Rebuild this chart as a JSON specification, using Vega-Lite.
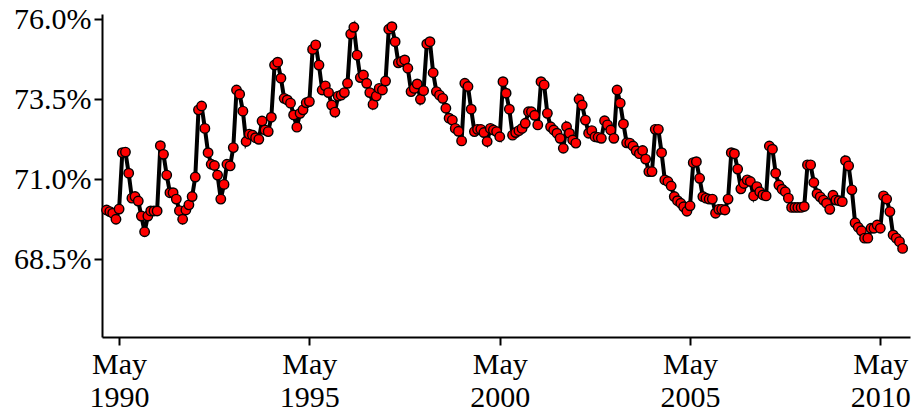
{
"$schema":"https://vega.github.io/schema/vega-lite/v6.json",
"autosize":{"type":"none"},
"padding":{"left":102,"top":14,"right":7,"bottom":83},
"width":808,"height":323,
"background":"white",
"config":{"view":{"stroke":null},"font":"Liberation Serif"},
"data":{"values":[
{"d":"1990-01-01","v":70.04},{"d":"1990-02-01","v":69.99},{"d":"1990-03-01","v":69.94},{"d":"1990-04-01","v":69.75},{"d":"1990-05-01","v":70.07},{"d":"1990-06-01","v":71.83},{"d":"1990-07-01","v":71.85},{"d":"1990-08-01","v":71.19},{"d":"1990-09-01","v":70.41},{"d":"1990-10-01","v":70.46},{"d":"1990-11-01","v":70.32},{"d":"1990-12-01","v":69.85},
{"d":"1991-01-01","v":69.36},{"d":"1991-02-01","v":69.85},{"d":"1991-03-01","v":70.01},{"d":"1991-04-01","v":70.01},{"d":"1991-05-01","v":70.01},{"d":"1991-06-01","v":72.05},{"d":"1991-07-01","v":71.78},{"d":"1991-08-01","v":71.13},{"d":"1991-09-01","v":70.58},{"d":"1991-10-01","v":70.58},{"d":"1991-11-01","v":70.38},{"d":"1991-12-01","v":70.02},
{"d":"1992-01-01","v":69.75},{"d":"1992-02-01","v":70.04},{"d":"1992-03-01","v":70.2},{"d":"1992-04-01","v":70.46},{"d":"1992-05-01","v":71.07},{"d":"1992-06-01","v":73.17},{"d":"1992-07-01","v":73.29},{"d":"1992-08-01","v":72.59},{"d":"1992-09-01","v":71.83},{"d":"1992-10-01","v":71.47},{"d":"1992-11-01","v":71.43},{"d":"1992-12-01","v":71.13},
{"d":"1993-01-01","v":70.38},{"d":"1993-02-01","v":70.84},{"d":"1993-03-01","v":71.47},{"d":"1993-04-01","v":71.42},{"d":"1993-05-01","v":71.99},{"d":"1993-06-01","v":73.79},{"d":"1993-07-01","v":73.66},{"d":"1993-08-01","v":73.13},{"d":"1993-09-01","v":72.18},{"d":"1993-10-01","v":72.41},{"d":"1993-11-01","v":72.38},{"d":"1993-12-01","v":72.3},
{"d":"1994-01-01","v":72.25},{"d":"1994-02-01","v":72.82},{"d":"1994-03-01","v":72.54},{"d":"1994-04-01","v":72.49},{"d":"1994-05-01","v":72.94},{"d":"1994-06-01","v":74.57},{"d":"1994-07-01","v":74.66},{"d":"1994-08-01","v":74.16},{"d":"1994-09-01","v":73.53},{"d":"1994-10-01","v":73.48},{"d":"1994-11-01","v":73.38},{"d":"1994-12-01","v":73.01},
{"d":"1995-01-01","v":72.63},{"d":"1995-02-01","v":73.06},{"d":"1995-03-01","v":73.17},{"d":"1995-04-01","v":73.39},{"d":"1995-05-01","v":73.43},{"d":"1995-06-01","v":75.06},{"d":"1995-07-01","v":75.2},{"d":"1995-08-01","v":74.57},{"d":"1995-09-01","v":73.79},{"d":"1995-10-01","v":73.92},{"d":"1995-11-01","v":73.71},{"d":"1995-12-01","v":73.32},
{"d":"1996-01-01","v":73.1},{"d":"1996-02-01","v":73.6},{"d":"1996-03-01","v":73.63},{"d":"1996-04-01","v":73.71},{"d":"1996-05-01","v":74.0},{"d":"1996-06-01","v":75.54},{"d":"1996-07-01","v":75.75},{"d":"1996-08-01","v":74.88},{"d":"1996-09-01","v":74.18},{"d":"1996-10-01","v":74.26},{"d":"1996-11-01","v":74.0},{"d":"1996-12-01","v":73.71},
{"d":"1997-01-01","v":73.34},{"d":"1997-02-01","v":73.6},{"d":"1997-03-01","v":73.84},{"d":"1997-04-01","v":73.79},{"d":"1997-05-01","v":74.07},{"d":"1997-06-01","v":75.69},{"d":"1997-07-01","v":75.77},{"d":"1997-08-01","v":75.3},{"d":"1997-09-01","v":74.64},{"d":"1997-10-01","v":74.68},{"d":"1997-11-01","v":74.73},{"d":"1997-12-01","v":74.47},
{"d":"1998-01-01","v":73.74},{"d":"1998-02-01","v":73.84},{"d":"1998-03-01","v":73.98},{"d":"1998-04-01","v":73.5},{"d":"1998-05-01","v":73.77},{"d":"1998-06-01","v":75.23},{"d":"1998-07-01","v":75.3},{"d":"1998-08-01","v":74.33},{"d":"1998-09-01","v":73.74},{"d":"1998-10-01","v":73.63},{"d":"1998-11-01","v":73.53},{"d":"1998-12-01","v":73.22},
{"d":"1999-01-01","v":72.91},{"d":"1999-02-01","v":72.85},{"d":"1999-03-01","v":72.59},{"d":"1999-04-01","v":72.5},{"d":"1999-05-01","v":72.2},{"d":"1999-06-01","v":74.0},{"d":"1999-07-01","v":73.9},{"d":"1999-08-01","v":73.19},{"d":"1999-09-01","v":72.49},{"d":"1999-10-01","v":72.56},{"d":"1999-11-01","v":72.56},{"d":"1999-12-01","v":72.46},
{"d":"2000-01-01","v":72.18},{"d":"2000-02-01","v":72.59},{"d":"2000-03-01","v":72.54},{"d":"2000-04-01","v":72.49},{"d":"2000-05-01","v":72.33},{"d":"2000-06-01","v":74.05},{"d":"2000-07-01","v":73.69},{"d":"2000-08-01","v":73.19},{"d":"2000-09-01","v":72.38},{"d":"2000-10-01","v":72.46},{"d":"2000-11-01","v":72.52},{"d":"2000-12-01","v":72.59},
{"d":"2001-01-01","v":72.75},{"d":"2001-02-01","v":73.11},{"d":"2001-03-01","v":73.11},{"d":"2001-04-01","v":73.0},{"d":"2001-05-01","v":72.7},{"d":"2001-06-01","v":74.05},{"d":"2001-07-01","v":73.95},{"d":"2001-08-01","v":73.06},{"d":"2001-09-01","v":72.64},{"d":"2001-10-01","v":72.54},{"d":"2001-11-01","v":72.44},{"d":"2001-12-01","v":72.28},
{"d":"2002-01-01","v":71.97},{"d":"2002-02-01","v":72.64},{"d":"2002-03-01","v":72.44},{"d":"2002-04-01","v":72.23},{"d":"2002-05-01","v":72.13},{"d":"2002-06-01","v":73.5},{"d":"2002-07-01","v":73.32},{"d":"2002-08-01","v":72.85},{"d":"2002-09-01","v":72.44},{"d":"2002-10-01","v":72.52},{"d":"2002-11-01","v":72.33},{"d":"2002-12-01","v":72.31},
{"d":"2003-01-01","v":72.28},{"d":"2003-02-01","v":72.83},{"d":"2003-03-01","v":72.7},{"d":"2003-04-01","v":72.54},{"d":"2003-05-01","v":72.28},{"d":"2003-06-01","v":73.79},{"d":"2003-07-01","v":73.38},{"d":"2003-08-01","v":72.73},{"d":"2003-09-01","v":72.14},{"d":"2003-10-01","v":72.13},{"d":"2003-11-01","v":72.04},{"d":"2003-12-01","v":71.89},
{"d":"2004-01-01","v":71.8},{"d":"2004-02-01","v":71.9},{"d":"2004-03-01","v":71.63},{"d":"2004-04-01","v":71.24},{"d":"2004-05-01","v":71.24},{"d":"2004-06-01","v":72.56},{"d":"2004-07-01","v":72.56},{"d":"2004-08-01","v":71.83},{"d":"2004-09-01","v":70.98},{"d":"2004-10-01","v":70.93},{"d":"2004-11-01","v":70.79},{"d":"2004-12-01","v":70.46},
{"d":"2005-01-01","v":70.33},{"d":"2005-02-01","v":70.25},{"d":"2005-03-01","v":70.14},{"d":"2005-04-01","v":70.0},{"d":"2005-05-01","v":70.17},{"d":"2005-06-01","v":71.52},{"d":"2005-07-01","v":71.55},{"d":"2005-08-01","v":71.03},{"d":"2005-09-01","v":70.46},{"d":"2005-10-01","v":70.41},{"d":"2005-11-01","v":70.38},{"d":"2005-12-01","v":70.38},
{"d":"2006-01-01","v":69.94},{"d":"2006-02-01","v":70.06},{"d":"2006-03-01","v":70.06},{"d":"2006-04-01","v":70.04},{"d":"2006-05-01","v":70.38},{"d":"2006-06-01","v":71.83},{"d":"2006-07-01","v":71.8},{"d":"2006-08-01","v":71.32},{"d":"2006-09-01","v":70.7},{"d":"2006-10-01","v":70.87},{"d":"2006-11-01","v":70.98},{"d":"2006-12-01","v":70.93},
{"d":"2007-01-01","v":70.48},{"d":"2007-02-01","v":70.77},{"d":"2007-03-01","v":70.61},{"d":"2007-04-01","v":70.51},{"d":"2007-05-01","v":70.48},{"d":"2007-06-01","v":72.04},{"d":"2007-07-01","v":71.94},{"d":"2007-08-01","v":71.19},{"d":"2007-09-01","v":70.82},{"d":"2007-10-01","v":70.69},{"d":"2007-11-01","v":70.61},{"d":"2007-12-01","v":70.41},
{"d":"2008-01-01","v":70.12},{"d":"2008-02-01","v":70.12},{"d":"2008-03-01","v":70.12},{"d":"2008-04-01","v":70.12},{"d":"2008-05-01","v":70.15},{"d":"2008-06-01","v":71.45},{"d":"2008-07-01","v":71.45},{"d":"2008-08-01","v":70.9},{"d":"2008-09-01","v":70.55},{"d":"2008-10-01","v":70.45},{"d":"2008-11-01","v":70.35},{"d":"2008-12-01","v":70.25},
{"d":"2009-01-01","v":70.06},{"d":"2009-02-01","v":70.5},{"d":"2009-03-01","v":70.35},{"d":"2009-04-01","v":70.33},{"d":"2009-05-01","v":70.3},{"d":"2009-06-01","v":71.58},{"d":"2009-07-01","v":71.42},{"d":"2009-08-01","v":70.67},{"d":"2009-09-01","v":69.64},{"d":"2009-10-01","v":69.5},{"d":"2009-11-01","v":69.39},{"d":"2009-12-01","v":69.16},
{"d":"2010-01-01","v":69.16},{"d":"2010-02-01","v":69.47},{"d":"2010-03-01","v":69.47},{"d":"2010-04-01","v":69.57},{"d":"2010-05-01","v":69.47},{"d":"2010-06-01","v":70.48},{"d":"2010-07-01","v":70.38},{"d":"2010-08-01","v":69.99},{"d":"2010-09-01","v":69.26},{"d":"2010-10-01","v":69.16},{"d":"2010-11-01","v":69.05},{"d":"2010-12-01","v":68.84}
]},
"encoding":{
"x":{"field":"d","type":"temporal","title":null,
"scale":{"type":"utc","domain":[{"year":1989,"month":11,"date":18,"utc":true},{"year":2011,"month":2,"date":10,"utc":true}]},
"axis":{"values":[{"year":1990,"month":5,"date":1,"utc":true},{"year":1995,"month":5,"date":1,"utc":true},{"year":2000,"month":5,"date":1,"utc":true},{"year":2005,"month":5,"date":1,"utc":true},{"year":2010,"month":5,"date":1,"utc":true}],
"labelExpr":"[utcFormat(datum.value,'%b'), utcFormat(datum.value,'%Y')]",
"grid":false,"domainColor":"black","domainWidth":2,"tickColor":"black","tickWidth":2,"tickSize":8,
"labelFont":"Liberation Serif","labelFontSize":30,"labelColor":"black","labelLineHeight":33,"labelPadding":4,"labelFlush":false,"labelOverlap":false}},
"y":{"field":"v","type":"quantitative","title":null,
"scale":{"domain":[66.07,76.166],"nice":false,"zero":false},
"axis":{"values":[68.5,71,73.5,76],"labelExpr":"format(datum.value,'.1f')+'%'",
"grid":false,"domainColor":"black","domainWidth":2,"tickColor":"black","tickWidth":2,"tickSize":8,
"labelFont":"Liberation Serif","labelFontSize":30,"labelColor":"black","labelPadding":3,"labelFlush":false,"labelOverlap":false}}
},
"layer":[
{"mark":{"type":"line","color":"black","strokeWidth":4}},
{"mark":{"type":"point","filled":true,"fill":"#ff0000","stroke":"black","strokeWidth":1.4,"size":90,"opacity":1}}
]
}
